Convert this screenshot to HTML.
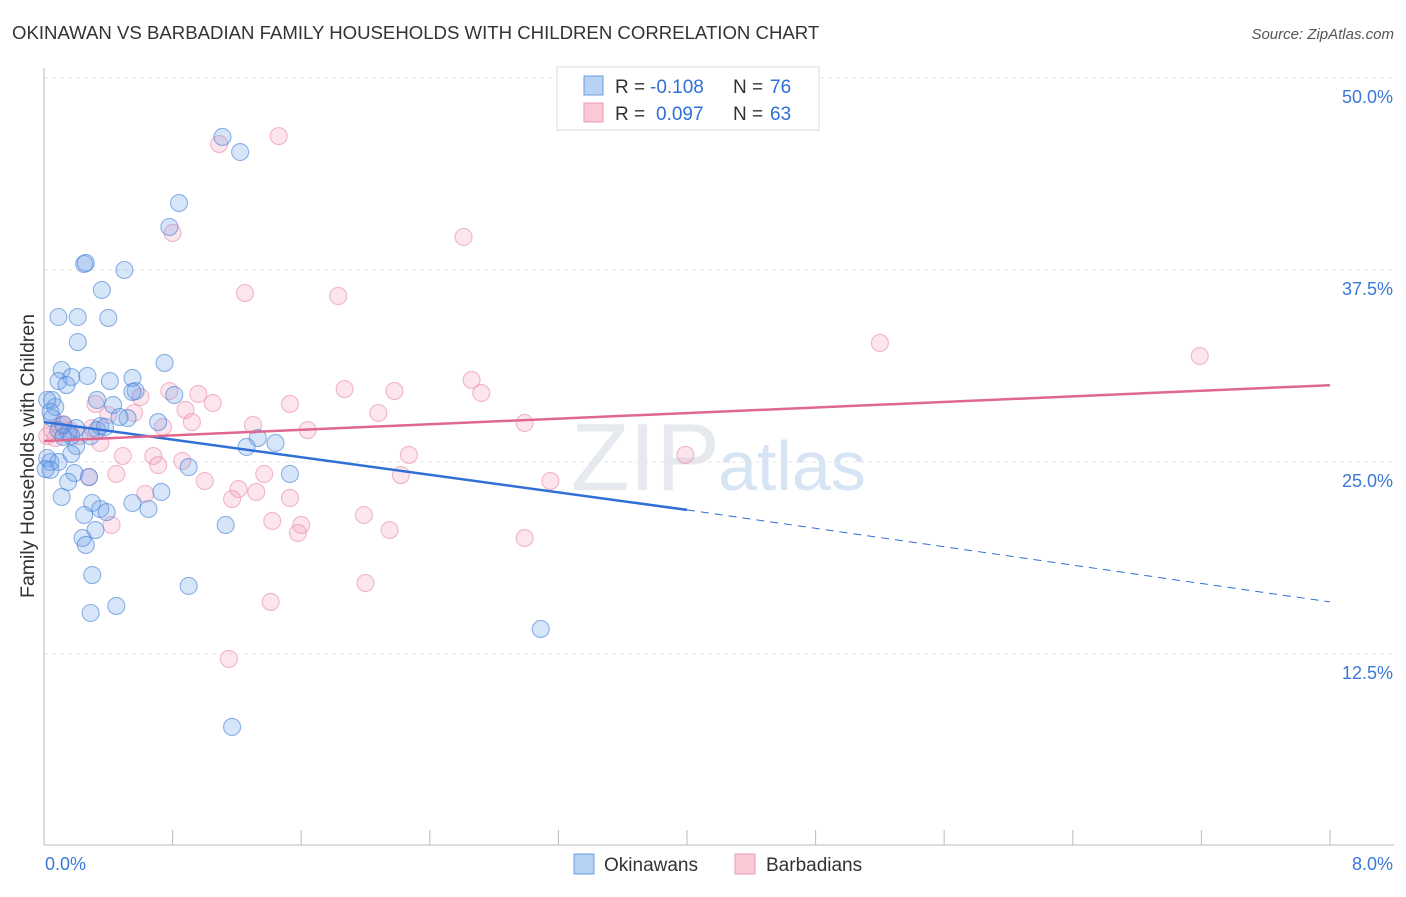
<!DOCTYPE html>
<html><head><meta charset="utf-8"><style>
body{margin:0;background:#fff;font-family:"Liberation Sans",sans-serif}
svg text{font-family:"Liberation Sans",sans-serif}
</style></head><body>
<svg id="chart" width="1406" height="892" xmlns="http://www.w3.org/2000/svg">
<text x="12" y="39" font-size="18.6" fill="#333">OKINAWAN VS BARBADIAN FAMILY HOUSEHOLDS WITH CHILDREN CORRELATION CHART</text>
<text x="1394" y="39" font-size="15" fill="#555" text-anchor="end" font-style="italic">Source: ZipAtlas.com</text>
<text x="720" y="490" font-size="96" fill="#e6e9ee" text-anchor="end" font-family="Liberation Serif">ZIP</text>
<text x="718" y="490" font-size="70" fill="#d7e4f4">atlas</text>
<g id="grid"></g>
<g id="axes"></g>
<g id="pts"></g>
<g id="lines"></g>
<text x="34" y="456" font-size="19.5" fill="#333" text-anchor="middle" transform="rotate(-90 34 456)">Family Households with Children</text>
<g>
<rect x="557" y="67" width="262" height="63" fill="#fff" stroke="#ddd"/>
<rect x="584" y="76" width="19" height="19" fill="#b8d2f4" stroke="#6a9ee0"/>
<rect x="584" y="103" width="19" height="19" fill="#f9c9d6" stroke="#ec9ab4"/>
<text x="615" y="93" font-size="19" fill="#333">R =</text>
<text x="650" y="93" font-size="19" fill="#2f6fd6">-0.108</text>
<text x="733" y="93" font-size="19" fill="#333">N =</text>
<text x="770" y="93" font-size="19" fill="#2f6fd6">76</text>
<text x="615" y="120" font-size="19" fill="#333">R =</text>
<text x="656" y="120" font-size="19" fill="#2f6fd6">0.097</text>
<text x="733" y="120" font-size="19" fill="#333">N =</text>
<text x="770" y="120" font-size="19" fill="#2f6fd6">63</text>
</g>
<g>
<rect x="574" y="854" width="20" height="20" fill="#b8d2f4" stroke="#6a9ee0"/>
<text x="604" y="871" font-size="19" fill="#333">Okinawans</text>
<rect x="735" y="854" width="20" height="20" fill="#f9c9d6" stroke="#ec9ab4"/>
<text x="766" y="871" font-size="19" fill="#333">Barbadians</text>
</g>
</svg>
<script>
const yTicks=[12.5,25,37.5,50];
const yTickLabels=["12.5%","25.0%","37.5%","50.0%"];
const xEndLabels=["0.0%","8.0%"];
const blueX=[1.11,1.22,0.84,0.78,0.25,0.26,0.50,0.36,0.09,0.21,0.40,0.21,0.75,0.11,0.09,0.17,0.14,0.27,0.41,0.55,0.57,0.05,0.07,0.33,0.43,0.52,0.47,0.81,0.71,0.05,0.09,0.15,0.35,0.33,0.12,0.20,1.33,1.26,1.44,0.17,0.02,0.04,0.01,0.09,0.19,0.28,0.90,1.53,0.15,0.11,0.73,0.30,0.55,0.65,0.35,0.39,0.25,1.13,0.32,0.24,0.26,0.30,0.90,0.45,0.29,3.09,1.17,0.04,0.04,0.20,0.29,0.17,0.55,0.38,0.12,0.02];
const blueY=[46.16,45.18,41.86,40.30,37.89,37.96,37.5,36.2,34.44,34.44,34.38,32.81,31.45,30.99,30.27,30.53,30.01,30.60,30.27,30.47,29.62,29.04,28.58,29.04,28.71,27.86,27.93,29.36,27.60,27.86,27.08,26.89,27.34,27.08,26.63,26.04,26.56,25.98,26.24,25.52,25.26,25.0,24.54,25.0,24.28,24.02,24.67,24.22,23.70,22.72,23.05,22.33,22.33,21.94,21.94,21.74,21.55,20.90,20.57,20.05,19.60,17.64,16.93,15.63,15.17,14.13,7.75,28.26,24.48,27.21,26.69,26.69,29.56,27.28,27.41,29.04];
const pinkX=[1.46,1.09,0.80,2.61,1.25,1.83,5.20,7.19,2.66,1.87,2.18,2.72,0.78,0.96,0.60,1.05,0.32,1.53,0.40,0.88,2.08,0.56,2.99,0.92,1.30,0.74,1.64,0.12,0.16,0.02,0.07,0.22,0.35,0.68,0.49,2.27,3.99,0.71,0.86,1.37,2.22,0.45,0.28,1.00,3.15,1.21,1.32,1.53,1.17,0.63,1.99,1.42,1.60,0.42,1.58,2.15,2.99,2.00,1.41,1.15,0.05,0.10,0.30];
const pinkY=[46.22,45.70,39.91,39.65,36.0,35.81,32.75,31.90,30.34,29.75,29.62,29.49,29.62,29.43,29.23,28.84,28.78,28.78,28.06,28.39,28.19,28.19,27.54,27.60,27.41,27.28,27.08,27.47,27.08,26.69,26.56,26.69,26.24,25.39,25.39,25.46,25.46,24.80,25.07,24.22,24.15,24.22,24.02,23.76,23.76,23.24,23.05,22.66,22.59,22.92,21.55,21.16,20.90,20.90,20.38,20.57,20.05,17.12,15.89,12.18,27.08,27.34,27.21];
const blueTrend=[27.6,21.88,15.89]; // at x=0,4,8
const pinkTrend=[26.37,30.0]; // at x=0,8
const NS="http://www.w3.org/2000/svg";
const X=v=>44+v*160.75, Y=v=>78+(50-v)*15.36;
function mk(tag,attrs,parent){const e=document.createElementNS(NS,tag);for(const k in attrs)e.setAttribute(k,attrs[k]);parent.appendChild(e);return e;}
const grid=document.getElementById('grid'),axes=document.getElementById('axes'),pts=document.getElementById('pts'),lines=document.getElementById('lines');
yTicks.forEach((t,i)=>{
 const l=mk('line',{x1:44,x2:1394,y1:Y(t),y2:Y(t),stroke:'#e4e4e4','stroke-dasharray':'4,4'},grid);
 
 
 const tx=mk('text',{x:1393,y:Y(t)+25,'font-size':18,fill:'#3b78d8','text-anchor':'end'},axes);
 tx.textContent=yTickLabels[i];
 
 
});
const ax=mk('line',{x1:44,x2:44,y1:68,y2:845,stroke:'#bbb'},axes);


const bx=mk('line',{x1:44,x2:1394,y1:845,y2:845,stroke:'#bbb'},axes);


for(let i=0;i<=10;i++){const t=mk('line',{x1:X(i*0.8),x2:X(i*0.8),y1:830,y2:845,stroke:'#bbb'},axes);
 
 }
[[0,'start',45],[8,'end',1393]].forEach((d,i)=>{const t=mk('text',{x:d[2],y:870,'font-size':18,fill:'#3b78d8','text-anchor':d[1]},axes);t.textContent=xEndLabels[i];
 
 });
function dots(xs,ys,fill,stroke,name){xs.forEach((x,i)=>{const c=mk('circle',{cx:X(x),cy:Y(ys[i]),r:8.5,fill:fill,stroke:stroke,'stroke-width':1.1},pts);
 
 });}
dots(pinkX,pinkY,'rgba(244,160,188,0.28)','rgba(232,140,172,0.6)','barbadian-point');
dots(blueX,blueY,'rgba(110,160,232,0.28)','rgba(70,130,215,0.6)','okinawan-point');
let l1=mk('line',{x1:X(0),y1:Y(blueTrend[0]),x2:X(4),y2:Y(blueTrend[1]),stroke:'#2f6fd6','stroke-width':2.5},lines);


let l2=mk('line',{x1:X(4),y1:Y(blueTrend[1]),x2:X(8),y2:Y(blueTrend[2]),stroke:'#2f6fd6','stroke-width':1,'stroke-dasharray':'8,6'},lines);


let l3=mk('line',{x1:X(0),y1:Y(pinkTrend[0]),x2:X(8),y2:Y(pinkTrend[1]),stroke:'#e0688f','stroke-width':2.5},lines);


</script>
</body></html>
